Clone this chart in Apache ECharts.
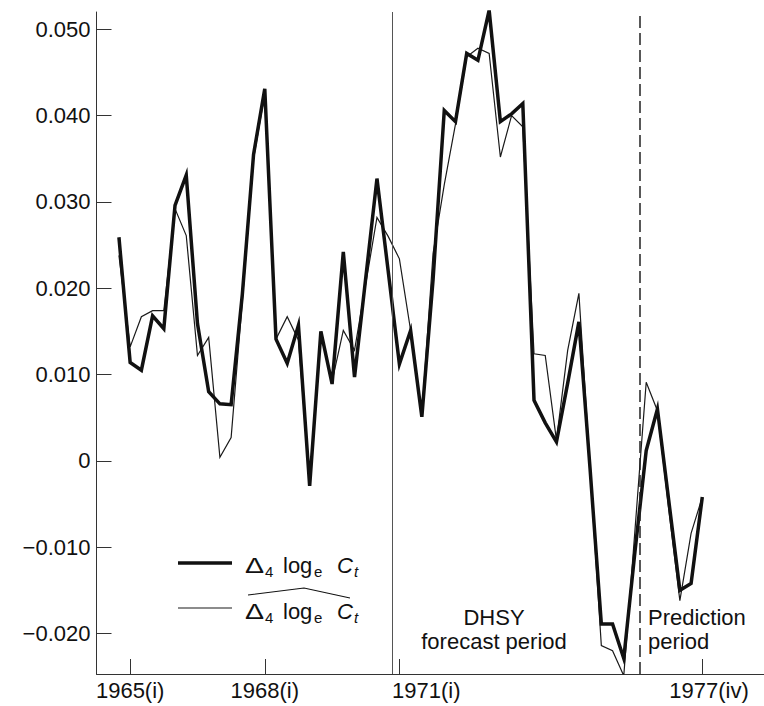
<!DOCTYPE html>
<html>
<head>
<meta charset="utf-8">
<script src="https://cdn.jsdelivr.net/npm/echarts@6/dist/echarts.min.js"></script>
<style>
html,body{margin:0;padding:0;background:#fff;}
#chart{width:764px;height:706px;}
</style>
</head>
<body>
<div id="chart"></div>
<script>
// Quarterly data, 1964(iv) .. 1977(iv) (index 0 .. 52)
const quarters = (function(){
  const q = ['i','ii','iii','iv'];
  const out = ['1964(iv)'];
  for (let y = 1965; y <= 1977; y++) for (let k = 0; k < 4; k++) out.push(y + '(' + q[k] + ')');
  return out;
})();

// Δ4 loge Ct (actual, thick line)
const actual = [
  0.0259, 0.0114, 0.0105, 0.0168, 0.0153, 0.0296, 0.0331, 0.0159, 0.0080, 0.0066,
  0.0065, 0.0193, 0.0355, 0.0431, 0.0141, 0.0113, 0.0157, -0.0029, 0.0150, 0.0089,
  0.0242, 0.0097, 0.0212, 0.0327, 0.0220, 0.0112, 0.0151, 0.0051, 0.0210, 0.0406,
  0.0393, 0.0472, 0.0464, 0.0522, 0.0393, 0.0402, 0.0414, 0.0070, 0.0044, 0.0022,
  0.0090, 0.0161, -0.0010, -0.0189, -0.0189, -0.0229, -0.0105, 0.0012, 0.0060, -0.0045,
  -0.0150, -0.0142, -0.0042
];

// fitted / predicted (thin line)
const fitted = [
  0.0238, 0.0132, 0.0167, 0.0174, 0.0174, 0.0292, 0.0261, 0.0122, 0.0143, 0.0004,
  0.0027, 0.0185, 0.0350, 0.0425, 0.0141, 0.0167, 0.0140, -0.0024, 0.0148, 0.0092,
  0.0151, 0.0128, 0.0205, 0.0282, 0.0260, 0.0234, 0.0151, 0.0053, 0.0240, 0.0320,
  0.0390, 0.0468, 0.0478, 0.0472, 0.0352, 0.0400, 0.0387, 0.0124, 0.0122, 0.0024,
  0.0128, 0.0194, -0.0010, -0.0214, -0.0220, -0.0249, -0.0080, 0.0091, 0.0058, -0.0055,
  -0.0162, -0.0084, -0.0042
];

const yTicks = [-0.02, -0.01, 0, 0.01, 0.02, 0.03, 0.04, 0.05];
const xTickValues = [1, 13, 25, 52];
const xTickLabels = ['1965(i)', '1968(i)', '1971(i)', '1977(iv)'];
const xLabelValues = [1, 13, 27.4, 52.6];
const forecastStart = 24.34;   // solid vertical line
const predictionStart = 46.39; // dashed vertical line

const FONT = '"Liberation Sans", Arial, Helvetica, sans-serif';
const INK = '#111';

const chart = echarts.init(document.getElementById('chart'), null, {renderer: 'svg'});

function pairs(arr){ return arr.map((v, i) => [i, v]); }

function legendText(y){
  return {type: 'group', children: [
    {type: 'text', x: 245, y: y, style: {text: '\u0394', font: '22px ' + FONT, fill: INK, verticalAlign: 'middle'}, scaleX: 1.3},
    {type: 'text', x: 265, y: y + 6, style: {text: '4', font: '15px ' + FONT, fill: INK, verticalAlign: 'middle'}},
    {type: 'text', x: 283, y: y, style: {text: 'log', font: '22px ' + FONT, fill: INK, verticalAlign: 'middle'}},
    {type: 'text', x: 314, y: y + 6, style: {text: 'e', font: '15px ' + FONT, fill: INK, verticalAlign: 'middle'}},
    {type: 'text', x: 337, y: y, style: {text: 'C', font: 'italic 22px ' + FONT, fill: INK, verticalAlign: 'middle'}},
    {type: 'text', x: 354, y: y + 6, style: {text: 't', font: 'italic 15px ' + FONT, fill: INK, verticalAlign: 'middle'}}
  ]};
}

const option = {
  animation: false,
  backgroundColor: '#fff',
  grid: {left: 96.5, right: 0, top: 12, bottom: 32, containLabel: false, outerBoundsMode: 'none'},
  xAxis: {
    type: 'value', min: -2, max: 57.5,
    axisLine: {show: true, onZero: false, lineStyle: {color: '#333', width: 1}},
    axisTick: {show: true, inside: true, length: 15, customValues: xTickValues, lineStyle: {color: '#333', width: 1}},
    axisLabel: {
      customValues: xLabelValues, margin: 5, color: INK, fontSize: 22, fontFamily: FONT,
      formatter: function(v){ const k = xLabelValues.findIndex(t => Math.abs(t - v) < 1e-6); return k >= 0 ? xTickLabels[k] : ''; }
    },
    splitLine: {show: false}
  },
  yAxis: {
    type: 'value', min: -0.0247, max: 0.052,
    axisLine: {show: true, onZero: false, lineStyle: {color: '#333', width: 1}},
    axisTick: {show: true, inside: true, length: 15, customValues: yTicks, lineStyle: {color: '#333', width: 1}},
    axisLabel: {
      customValues: yTicks, margin: 6, color: INK, fontSize: 22, fontFamily: FONT,
      formatter: function(v){
        if (Math.abs(v) < 1e-9) return '0';
        return (v < 0 ? '\u2212' : '') + Math.abs(v).toFixed(3);
      }
    },
    splitLine: {show: false}
  },
  series: [
    {
      name: 'fitted', type: 'line', data: pairs(fitted), showSymbol: false, symbol: 'none',
      lineStyle: {color: '#1a1a1a', width: 1.2, join: 'miter'}, z: 2,
      markLine: {
        silent: true, symbol: ['none', 'none'], label: {show: false},
        data: [
          {xAxis: forecastStart, lineStyle: {color: '#555', width: 1, type: 'solid'}},
          {xAxis: predictionStart, lineStyle: {color: '#222', width: 1.5, type: [12, 5]}}
        ]
      }
    },
    {
      name: 'actual', type: 'line', data: pairs(actual), showSymbol: false, symbol: 'none',
      lineStyle: {color: '#111', width: 3.5, join: 'miter', miterLimit: 6}, z: 3
    }
  ],
  graphic: [
    // legend
    {type: 'line', shape: {x1: 178, y1: 563, x2: 232, y2: 563}, style: {stroke: '#111', lineWidth: 3.5}},
    {type: 'line', shape: {x1: 178, y1: 608, x2: 232, y2: 608}, style: {stroke: '#1a1a1a', lineWidth: 1.2}},
    legendText(565),
    legendText(611),
    {type: 'polyline', shape: {points: [[248, 595], [304, 588], [350, 598]]}, style: {stroke: '#111', lineWidth: 1.2, fill: null}},
    // period annotations
    {type: 'text', x: 494, y: 605, style: {text: 'DHSY\nforecast period', font: '22px ' + FONT, lineHeight: 24, fill: INK, align: 'center', verticalAlign: 'top'}},
    {type: 'text', x: 648, y: 605, style: {text: 'Prediction\nperiod', font: '22px ' + FONT, lineHeight: 24, fill: INK, align: 'left', verticalAlign: 'top'}}
  ]
};

chart.setOption(option);
</script>
</body>
</html>
